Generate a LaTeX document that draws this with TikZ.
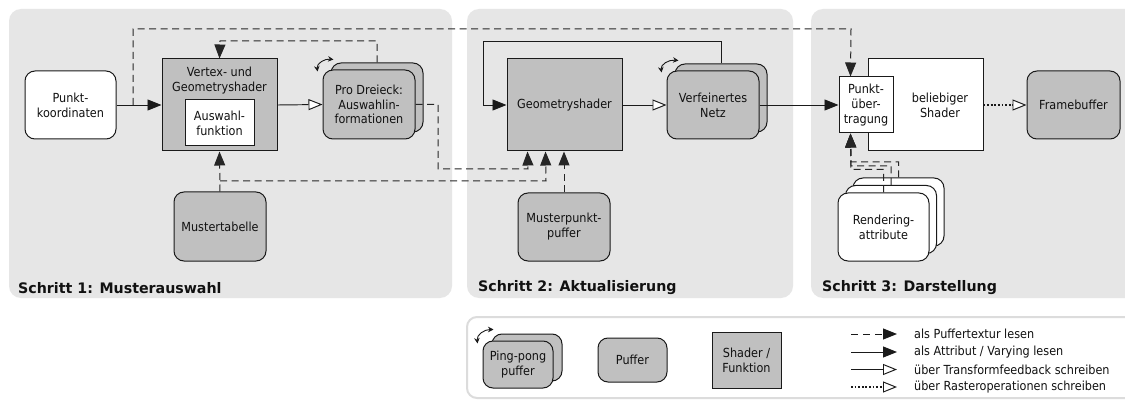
\documentclass[tikz,border=0pt]{standalone}
\usepackage{fontspec}
\newfontfamily\regf{DejaVu Sans}[FakeStretch=0.9]
\newfontfamily\boldf{DejaVu Sans}[FakeStretch=0.98]
\usetikzlibrary{arrows.meta}
\definecolor{panelgray}{HTML}{E6E6E6}
\definecolor{boxgray}{HTML}{C0C0C0}
\definecolor{linec}{HTML}{1A1A1A}
\definecolor{dashc}{HTML}{262626}
\definecolor{legendborder}{HTML}{DCDCDC}
\definecolor{txt}{HTML}{111111}
\begin{document}
\begin{tikzpicture}[x=1pt,y=-1pt,
  every node/.style={font=\regf\fontsize{12.5}{15}\selectfont, text=txt},
  panel/.style={fill=panelgray, rounded corners=12pt, draw=none},
  bx/.style={draw=linec, line width=1pt, inner sep=0pt, align=center},
  gbx/.style={bx, fill=boxgray},
  wbx/.style={bx, fill=white},
  rnd/.style={rounded corners=10pt},
  txtnode/.style={inner sep=0pt, align=center},
  fa/.style={-{Triangle[length=14pt,width=11pt]}},
  oa/.style={-{Triangle[open,length=14pt,width=11pt,fill=white]}},
  conn/.style={draw=linec, line width=0.95pt},
  dconn/.style={draw=dashc, line width=1pt, dash pattern=on 7pt off 4.5pt},
  dotc/.style={draw=linec, line width=1.8pt, dash pattern=on 1.8pt off 1.8pt},
  steplabel/.style={anchor=west, font=\boldf\bfseries\fontsize{14.5}{16}\selectfont, inner sep=0pt},
  pp/.style={draw=linec, line width=0.9pt, {Stealth[length=5.5pt,width=5.5pt]}-{Stealth[length=5.5pt,width=5.5pt]}},
  legtext/.style={anchor=west, inner sep=0pt},
]
\useasboundingbox (0,0) rectangle (1125,401);
\clip (0,0) rectangle (1125,401);
\fill[white] (0,0) rectangle (1125,401);

% panels
\fill[panel] (9,9) rectangle (452,298);
\fill[panel] (467,9) rectangle (793,298);
\fill[panel] (811,9) rectangle (1140,298);
\node[steplabel] (s1) at (18,288) {Schritt 1: Musterauswahl};
\node[steplabel] (s2) at (478,288) {Schritt 2: Aktualisierung};
\node[steplabel] (s3) at (822,288) {Schritt 3: Darstellung};

% legend frame
\draw[draw=legendborder, line width=2pt, rounded corners=10pt, fill=white] (467,317) rectangle (1140,398);

% ---- Panel 1 ----
\node[wbx, rnd, minimum width=91pt, minimum height=68pt] (pk) at (70.5,105) {Punkt-\\koordinaten};
\node[gbx, minimum width=115pt, minimum height=92pt] (vs) at (219.5,105) {};
\node[txtnode] (vst) at (219.5,80.5) {Vertex- und\\Geometryshader};
\node[wbx, minimum width=69pt, minimum height=46pt] (af) at (219.5,123) {Auswahl-\\funktion};
\node[gbx, rnd, minimum width=92pt, minimum height=69pt] (pdb) at (377,97.5) {};
\node[gbx, rnd, minimum width=92pt, minimum height=69pt, font=\regf\fontsize{12.5}{14.5}\selectfont] (pdf) at (369,104.5) {Pro Dreieck:\\Auswahlin-\\formationen};
\node[gbx, rnd, minimum width=92pt, minimum height=69pt] (mt) at (220,226.5) {Mustertabelle};

% ---- Panel 2 ----
\node[gbx, minimum width=115pt, minimum height=92pt] (gs) at (564.5,105) {Geometryshader};
\node[gbx, rnd, minimum width=92pt, minimum height=68pt] (vnb) at (721,98) {};
\node[gbx, rnd, minimum width=92pt, minimum height=68pt] (vnf) at (713,105) {Verfeinertes\\Netz};
\node[gbx, rnd, minimum width=92pt, minimum height=68pt] (mp) at (564,227) {Musterpunkt-\\puffer};

% ---- Panel 3 ----
\node[wbx, minimum width=115pt, minimum height=92pt] (bs) at (925.5,105) {};
\node[txtnode] (bst) at (940,105) {beliebiger\\Shader};
\node[wbx, minimum width=54pt, minimum height=56pt] (pu) at (866,105) {Punkt-\\über-\\tragung};
\node[gbx, rnd, minimum width=93pt, minimum height=68pt] (fb) at (1073.5,105) {Framebuffer};
\node[wbx, rnd, minimum width=91pt, minimum height=68pt] (ra3) at (898.5,212) {};
\node[wbx, rnd, minimum width=91pt, minimum height=68pt] (ra2) at (891,219.5) {};
\node[wbx, rnd, minimum width=91pt, minimum height=68pt] (ra1) at (883.5,227) {Rendering-\\attribute};

% ping-pong markers
\draw[pp] ([shift={(-5,2)}]pdf.north west) .. controls ([shift={(-6,-6)}]pdf.north west) and ([shift={(2,-11)}]pdf.north west) .. ([shift={(11,-10)}]pdf.north west);
\draw[pp] ([shift={(-5,2)}]vnf.north west) .. controls ([shift={(-6,-6)}]vnf.north west) and ([shift={(2,-11)}]vnf.north west) .. ([shift={(12,-10)}]vnf.north west);

% ---- connectors ----
\coordinate (b1) at (133,105);
\coordinate (c1) at (133,29);
\coordinate (c2) at (851,29);
\draw[conn,fa] (pk.east) -- (vs.west);
\draw[dconn,fa] (b1) -- (c1) -- (c2) -- ([xshift=12pt]pu.north west);
\draw[conn,oa] (vs.east) -- (pdf.west);
\draw[dconn,fa] (pdb.north) |- (220,41) -- (vs.north);
\draw[dconn,fa] (pdf.east) -- (438,104.5) -- (438,169) -- (528,169) -- ([xshift=21pt]gs.south west);
\draw[dconn,fa] (mt.north) -- (vs.south);
\coordinate (mj) at (220,181);
\draw[dconn,fa] (mj) -- (546,181) -- ([xshift=39pt]gs.south west);
\draw[dconn,fa] (mp.north) -- (mp.north |- gs.south);
\draw[conn,oa] (gs.east) -- (vnf.west);
\draw[conn,fa] (vnb.north) |- (483,41) |- (gs.west);
\draw[conn,fa] (vnf.east) -- (pu.west);
\draw[dotc] (bs.east) -- ([xshift=-14pt]fb.west);
\draw[conn,oa] ([xshift=-14pt]fb.west) -- (fb.west);
\draw[dconn,fa] (ra3.north) -- (898.5,162) -- (851,162) -- ([xshift=12pt]pu.south west);
\draw[dconn,fa] (ra2.north) -- (891,166) -- (851,166) -- ([xshift=12pt]pu.south west);
\draw[dconn,fa] (ra1.north) -- (883.5,169.5) -- (851,169.5) -- ([xshift=12pt]pu.south west);

% ---- legend ----
\node[gbx, rnd, minimum width=70pt, minimum height=47pt] (lpb) at (527,357.5) {};
\node[gbx, rnd, minimum width=70pt, minimum height=47pt] (lpf) at (518,364.5) {Ping-pong\\puffer};
\draw[pp] ([shift={(-5,3)}]lpf.north west) .. controls ([shift={(-6,-6)}]lpf.north west) and ([shift={(2,-11)}]lpf.north west) .. ([shift={(11,-11)}]lpf.north west);
\node[gbx, rnd, minimum width=69pt, minimum height=44pt] (lpu) at (632.5,360) {Puffer};
\node[gbx, minimum width=69pt, minimum height=56pt] (lsf) at (746.5,360) {Shader /\\Funktion};

\coordinate (l1a) at (851,334); \coordinate (l1b) at (897,334);
\coordinate (l2a) at (851,352); \coordinate (l2b) at (897,352);
\coordinate (l3a) at (851,369.5); \coordinate (l3b) at (897,369.5);
\coordinate (l4a) at (851,387); \coordinate (l4b) at (897,387);
\draw[dconn,fa,draw=linec,dash pattern=on 7pt off 5pt] (l1a) -- (l1b);
\draw[conn,fa] (l2a) -- (l2b);
\draw[conn,oa] (l3a) -- (l3b);
\draw[dotc] (l4a) -- (883,387);
\draw[conn,oa] (883,387) -- (l4b);
\node[legtext] (t1) at (914,334) {als Puffertextur lesen};
\node[legtext] (t2) at (914,352) {als Attribut / Varying lesen};
\node[legtext] (t3) at (914,369.5) {über Transformfeedback schreiben};
\node[legtext] (t4) at (914,387) {über Rasteroperationen schreiben};
\end{tikzpicture}
\end{document}
